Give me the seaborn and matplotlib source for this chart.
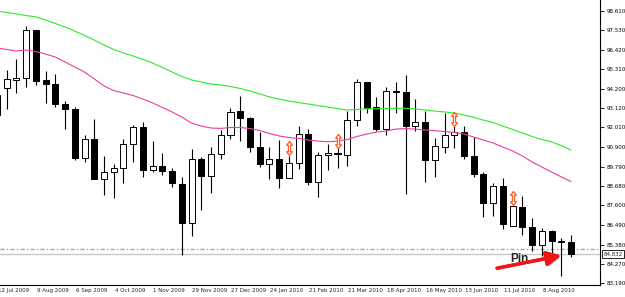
import numpy as np
import pandas as pd
import matplotlib
matplotlib.use("Agg")
import matplotlib.pyplot as plt
import matplotlib.patheffects as pe
from matplotlib.path import Path
from matplotlib.transforms import blended_transform_factory
import seaborn as sns

# Velas semanales (indice -1 = 12 Jul 2009 ... 58 = 29 Aug 2010)
semana = list(range(-1, 59))
apertura = [92.72, 94.23, 94.72, 94.80, 97.51, 94.68, 94.47, 93.34, 93.06, 90.30,
            91.36, 89.11, 89.51, 89.73, 91.06, 92.05, 89.60, 89.83, 89.56, 88.81,
            86.60, 90.21, 89.28, 90.51, 91.57, 92.96, 92.53, 90.90, 89.92, 90.21,
            89.13, 89.98, 91.62, 88.92, 90.43, 90.58, 90.47, 92.43, 94.57, 93.15,
            91.92, 94.09, 94.00, 92.09, 92.30, 90.15, 90.92, 91.57, 91.74, 90.41,
            89.38, 87.73, 88.70, 86.45, 87.51, 86.39, 85.34, 86.16, 85.60, 85.51]
maximo = [94.25, 95.27, 95.87, 97.76, 97.53, 95.23, 95.04, 93.51, 93.15, 91.58,
          92.51, 90.40, 89.94, 91.34, 92.13, 92.32, 91.24, 90.58, 89.70, 89.21,
          90.79, 90.36, 90.90, 91.87, 93.10, 93.78, 92.62, 91.74, 90.90, 91.28,
          90.40, 92.09, 91.92, 90.60, 91.06, 91.07, 92.96, 94.74, 94.60, 93.72,
          94.32, 94.59, 94.98, 93.61, 92.96, 91.41, 92.85, 92.09, 92.09, 91.49,
          89.47, 88.85, 89.13, 87.59, 88.13, 86.87, 86.33, 86.18, 85.73, 85.92]
minimo = [92.43, 93.04, 93.98, 94.32, 94.40, 93.41, 93.19, 91.91, 90.17, 90.07,
          89.08, 88.20, 88.00, 88.85, 90.07, 89.19, 89.49, 89.30, 88.62, 84.79,
          85.86, 87.34, 88.32, 90.21, 91.37, 91.23, 90.60, 89.77, 89.11, 88.57,
          89.13, 89.68, 88.77, 88.09, 89.60, 89.73, 89.83, 92.09, 92.81, 91.81,
          91.58, 92.81, 88.23, 91.81, 88.94, 89.22, 90.55, 90.83, 90.24, 89.22,
          86.96, 87.01, 86.26, 86.45, 85.92, 85.03, 84.75, 84.79, 83.60, 84.69]
cierre = [93.85, 94.74, 94.80, 97.51, 94.64, 94.47, 93.34, 93.07, 90.30, 91.36,
          89.11, 89.51, 89.73, 91.06, 92.05, 89.59, 89.83, 89.56, 88.85, 86.60,
          90.21, 89.28, 90.53, 91.57, 92.90, 92.53, 90.89, 89.92, 90.21, 89.15,
          90.02, 91.62, 88.91, 90.43, 90.58, 90.49, 92.43, 94.57, 93.10, 91.92,
          94.09, 94.00, 92.09, 92.30, 90.15, 90.94, 91.57, 91.74, 90.38, 89.36,
          87.73, 88.70, 86.53, 87.55, 86.39, 85.36, 86.15, 85.56, 85.51, 84.832]

# Medias moviles
media_lenta = [98.61, 98.52, 98.44, 98.35, 98.27, 98.10, 97.90, 97.70, 97.47, 97.22,
               96.96, 96.68, 96.43, 96.23, 96.06, 95.86, 95.66, 95.41, 95.15, 94.90,
               94.70, 94.59, 94.47, 94.42, 94.33, 94.22, 94.08, 93.91, 93.74, 93.62,
               93.51, 93.42, 93.34, 93.25, 93.17, 93.08, 93.00, 93.03, 93.07, 93.07,
               93.08, 93.10, 93.10, 93.06, 93.00, 92.94, 92.89, 92.83, 92.72, 92.58,
               92.43, 92.29, 92.09, 91.90, 91.70, 91.50, 91.33, 91.19, 90.99, 90.73]
media_rapida = [96.51, 96.43, 96.34, 96.40, 96.31, 96.17, 96.00, 95.72, 95.43, 95.15,
                94.76, 94.36, 94.10, 93.96, 93.82, 93.62, 93.40, 93.14, 92.89, 92.60,
                92.26, 92.09, 91.98, 91.96, 92.01, 92.01, 91.95, 91.84, 91.67, 91.53,
                91.44, 91.39, 91.30, 91.24, 91.20, 91.24, 91.33, 91.50, 91.64, 91.75,
                91.81, 91.92, 91.95, 91.92, 91.87, 91.83, 91.78, 91.73, 91.64, 91.47,
                91.30, 91.13, 90.90, 90.68, 90.40, 90.06, 89.77, 89.49, 89.21, 88.95]

# Senales (flechas naranjas)
senal_semana = [29, 34, 46, 52]
senal_precio = [90.83, 91.22, 92.49, 88.00]

nivel_soporte = 85.11
precio_actual = 84.832

etiquetas_precio = ["98.610", "97.530", "96.420", "95.310", "94.200", "93.120", "92.010",
                    "90.900", "89.790", "88.680", "87.600", "86.490", "85.380", "84.270", "83.190"]
semana_fechas = [-1, 3, 7, 11, 15, 19, 23, 27, 31, 35, 39, 43, 47, 51, 55]
etiquetas_fecha = ["12 Jul 2009", "9 Aug 2009", "6 Sep 2009", "4 Oct 2009", "1 Nov 2009",
                   "29 Nov 2009", "27 Dec 2009", "24 Jan 2010", "21 Feb 2010", "21 Mar 2010",
                   "18 Apr 2010", "16 May 2010", "13 Jun 2010", "11 Jul 2010", "8 Aug 2010"]

df = pd.DataFrame({"semana": semana, "open": apertura, "high": maximo,
                   "low": minimo, "close": cierre})
alcista = df["close"] >= df["open"]

sns.set_style("white")
plt.rcParams["font.family"] = ["DejaVu Sans"]

fig = plt.figure(figsize=(6.25, 2.97), dpi=100)
ax = fig.add_axes([0, 12 / 297, 600 / 625, 285 / 297])

# lineas horizontales
ax.axhline(nivel_soporte, color="#79c46c", lw=1, ls=(0, (3, 1.6, 1, 1.6)), zorder=1)
ax.axhline(precio_actual, color="#c8c8c8", lw=1, zorder=1)

# velas
ax.vlines(df["semana"], df["low"], df["high"], color="black", lw=0.8, zorder=2)
cuerpo = (df["close"] - df["open"]).abs().clip(lower=0.06)
base = df[["open", "close"]].min(axis=1)
ax.bar(df["semana"], cuerpo, bottom=base, width=0.62,
       color=np.where(alcista, "white", "black"), edgecolor="black", linewidth=0.7, zorder=3)

# medias moviles
sns.lineplot(x=semana, y=media_lenta, color="#2ee82e", lw=0.8, ax=ax, zorder=4)
sns.lineplot(x=semana, y=media_rapida, color="#e8409a", lw=0.8, ax=ax, zorder=4)

# flechas dobles
flecha = Path([(0, 1), (0.4, 0.45), (0.15, 0.45), (0.15, -0.45), (0.4, -0.45), (0, -1),
               (-0.4, -0.45), (-0.15, -0.45), (-0.15, 0.45), (-0.4, 0.45), (0, 1)])
ax.scatter(senal_semana, senal_precio, marker=flecha, s=105, facecolor="white",
           edgecolor="#ff5a1f", linewidth=0.9, zorder=5)

# anotacion "Pin"
ax.text(52.65, 84.56, "Pin", fontsize=8.5, fontweight="bold", family="Liberation Sans",
        ha="center", va="center", zorder=6)
ax.annotate("", xy=(57.0, 84.76), xytext=(50.4, 84.04),
            arrowprops=dict(arrowstyle="-|>,head_length=0.85,head_width=0.42",
                            color="#ee1515", lw=2.4, shrinkA=0, shrinkB=0,
                            path_effects=[pe.withSimplePatchShadow(offset=(1.2, -1.6),
                                                                   shadow_rgbFace="#888888",
                                                                   alpha=0.6),
                                          pe.Normal()]),
            zorder=6)

ax.set_xlim(-0.69, 60.98)
ax.set_ylim(83.09, 99.23)

# eje de precios a la derecha
ax.yaxis.tick_right()
ax.set_yticks([float(v) for v in etiquetas_precio])
ax.set_yticklabels(etiquetas_precio, fontsize=4)
ax.tick_params(axis="y", direction="out", length=3, width=0.6, pad=1.5, colors="black")

# fechas
ax.set_xticks([s for s in semana_fechas if s >= 0])
ax.set_xticklabels([])
ax.tick_params(axis="x", direction="out", length=3, width=0.6, colors="black")
tr = ax.get_xaxis_transform()
for s, t in zip(semana_fechas, etiquetas_fecha):
    ax.text(s + 0.08, -0.012, t, transform=tr, fontsize=4, ha="left", va="top", clip_on=False)

# etiqueta del precio actual
tr2 = blended_transform_factory(ax.transAxes, ax.transData)
ax.text(1.006, precio_actual, "84.832", transform=tr2, fontsize=4, ha="left", va="center",
        bbox=dict(boxstyle="square,pad=0.25", facecolor="white", edgecolor="black", lw=0.6),
        clip_on=False, zorder=7)

for lado in ["top", "left"]:
    ax.spines[lado].set_visible(False)
for lado in ["right", "bottom"]:
    ax.spines[lado].set_color("black")
    ax.spines[lado].set_linewidth(0.8)

fig.savefig("out.png", dpi=100)
